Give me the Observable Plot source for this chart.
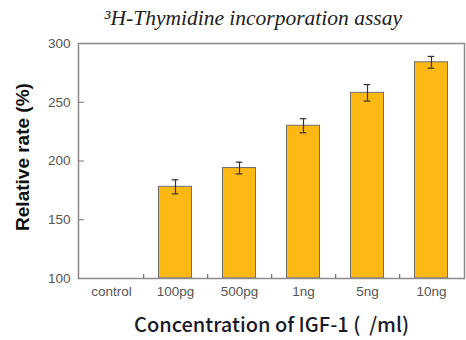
<!DOCTYPE html>
<html>
<head>
<meta charset="utf-8">
<script src="https://cdn.jsdelivr.net/npm/d3@7"></script>
<script src="https://cdn.jsdelivr.net/npm/@observablehq/plot@0.6"></script>
<style>
  body { margin: 0; background: #fff; }
  #wrap { width: 466px; height: 340px; overflow: hidden; }
  #title { height: 34px; line-height: 36px; font-family: "Liberation Serif", "DejaVu Serif", serif; font-style: italic; font-size: 21.5px; color: #222; text-align: center; padding-left: 40px; box-sizing: border-box; width: 466px; white-space: nowrap; }
  svg { display: block; }
  svg text { white-space: pre; }
</style>
</head>
<body>
<div id="wrap">
  <div id="title">³H-Thymidine incorporation assay</div>
  <div id="chart"></div>
</div>
<script>
const categories = ["control", "100pg", "500pg", "1ng", "5ng", "10ng"];
const values = [100, 178, 194, 230, 258, 284];
const errors = [0, 6, 5, 6, 7, 5];
const yTicks = [100, 150, 200, 250, 300];
const titleText = "³H-Thymidine incorporation assay";
const yLabel = "Relative rate (%)";
const xLabel = "Concentration of IGF-1 (  /ml)";

const data = categories.map((c, i) => ({cat: c, v: values[i], e: errors[i]}));
const withErr = data.filter(d => d.e > 0);

const chart = Plot.plot({
  width: 466,
  height: 306,
  marginLeft: 78,
  marginRight: 2,
  marginTop: 9,
  marginBottom: 62,
  style: {fontFamily: "'Liberation Sans', Arial, sans-serif", fontSize: "13px", color: "#555", background: "#fff", overflow: "visible"},
  x: {type: "band", domain: categories, padding: 0, label: null},
  y: {domain: [100, 300], label: null},
  marks: [
    Plot.barY(data, {x: "cat", y1: 100, y2: "v", fill: "#FDB813", stroke: "#6f6f6f", strokeWidth: 1, insetLeft: 15.5, insetRight: 15.5}),
    Plot.ruleX(withErr, {x: "cat", y1: d => d.v - d.e, y2: d => d.v + d.e, stroke: "#333", strokeWidth: 1.2}),
    Plot.tickY(withErr, {x: "cat", y: d => d.v + d.e, stroke: "#333", strokeWidth: 1.2, insetLeft: 28.7, insetRight: 28.7}),
    Plot.tickY(withErr, {x: "cat", y: d => d.v - d.e, stroke: "#333", strokeWidth: 1.2, insetLeft: 28.7, insetRight: 28.7}),
    Plot.frame({stroke: "#8a8a8a", strokeWidth: 1.5}),
    Plot.axisY({ticks: yTicks, tickSize: 0, tickPadding: 8, label: null, fill: "#555", fontSize: 13.5}),
    Plot.axisY({ticks: [150, 200, 250], tickSize: 6, dx: 6, tickFormat: () => "", label: null, stroke: "#777"}),
    Plot.axisX({ticks: categories.slice(0, 5), tickSize: 4, dx: 32.2, dy: -4, tickFormat: () => "", label: null, stroke: "#555"}),
    Plot.axisX({tickSize: 0, tickPadding: 8, label: null, fill: "#555", fontSize: 13.5}),
    Plot.text([yLabel], {frameAnchor: "left", textAnchor: "middle", lineAnchor: "middle", rotate: -90, dx: -56, dy: -4, text: d => d, fontWeight: "bold", fontSize: 19, fill: "#111", fontFamily: "'Liberation Sans', Arial, sans-serif"}),
    Plot.text([xLabel], {frameAnchor: "bottom", textAnchor: "middle", lineAnchor: "middle", dy: 47, text: d => d, fontSize: 20, fontWeight: 500, fill: "#1a1a2a", fontFamily: "'Noto Sans CJK KR', 'Noto Sans', sans-serif"})
  ]
});
document.getElementById("chart").appendChild(chart);
</script>
</body>
</html>
